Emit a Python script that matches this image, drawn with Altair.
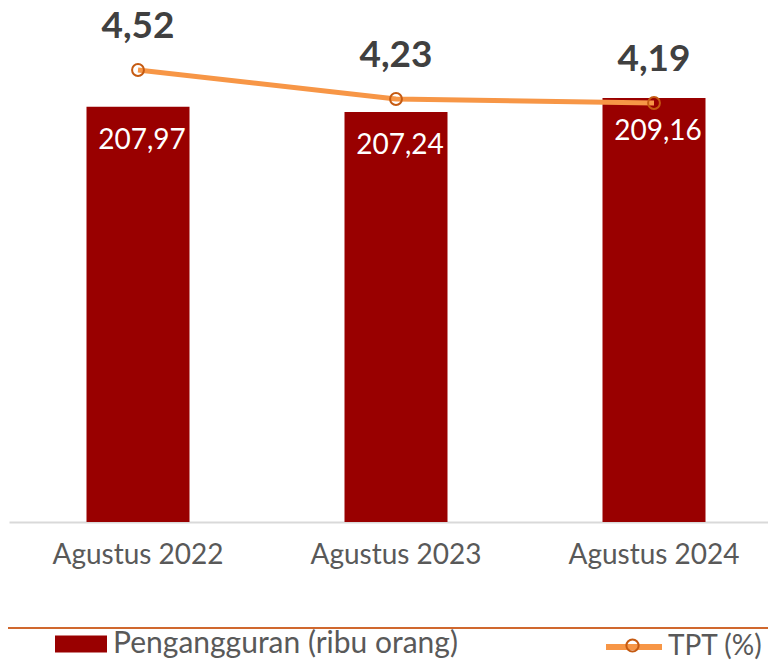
import altair as alt
import pandas as pd

# ---- data ----
periods = ["Agustus 2022", "Agustus 2023", "Agustus 2024"]
pengangguran = [207.97, 207.24, 209.16]
tpt = [4.52, 4.23, 4.19]
bar_series = "Pengangguran (ribu orang)"
line_series = "TPT (%)"

df = pd.DataFrame({"period": periods, "peng": pengangguran, "tpt": tpt})
df["peng_label"] = [f"{v:.2f}".replace(".", ",") for v in pengangguran]
df["tpt_label"] = [f"{v:.2f}".replace(".", ",") for v in tpt]
df["s_bar"] = bar_series
df["s_line"] = line_series

FONT = "Lato"
GRAY = "#595959"
RED = "#990000"
ORANGE = "#F79646"
DARK_ORANGE = "#C55A11"

x = alt.X(
    "period:N", sort=periods, title=None,
    scale=alt.Scale(range=[0, 774], paddingInner=0, paddingOuter=0),
    axis=alt.Axis(labelAngle=0, labelFont=FONT, labelFontSize=28, labelColor=GRAY,
                  ticks=False, domainColor="#D9D9D9", domainWidth=2, labelPadding=19,
                  grid=False),
)
y_bar = alt.Y("peng:Q", scale=alt.Scale(domain=[151, 219.6], nice=False, zero=False), axis=None)
y_line = alt.Y("tpt:Q", scale=alt.Scale(domain=[0, 5], nice=False, zero=True), axis=None)

LEG_C = 622  # legend row centre, relative to plot top
bars = alt.Chart(df).mark_bar(width=103, clip=True).encode(
    x=x, y=y_bar,
    color=alt.Color("s_bar:N", scale=alt.Scale(domain=[bar_series], range=[RED]),
                    legend=alt.Legend(orient="none", legendX=46, legendY=LEG_C - 26, title=None,
                                      symbolType="M-1,-0.327H1V0.327H-1Z", symbolSize=2704,
                                      symbolStrokeWidth=0, labelFont=FONT, labelFontSize=30,
                                      labelColor=GRAY, labelOffset=6, padding=0,
                                      labelLimit=500)),
)
bar_text = alt.Chart(df).mark_text(font=FONT, fontSize=28, color="white", dy=34, dx=4,
                                   baseline="middle").encode(x=x, y=y_bar, text="peng_label:N")

line = alt.Chart(df).mark_line(strokeWidth=5).encode(
    x=x, y=y_line,
    color=alt.Color("s_line:N", scale=alt.Scale(domain=[line_series], range=[ORANGE]),
                    legend=alt.Legend(orient="none", legendX=594, legendY=LEG_C - 28, title=None,
                                      symbolType="M-1,0H1",
                                      symbolSize=3136, symbolStrokeWidth=6,
                                      labelFont=FONT, labelFontSize=28, labelColor=GRAY,
                                      labelOffset=3, padding=0, labelLimit=500)),
)
points = alt.Chart(df).mark_point(filled=False, size=140, stroke=DARK_ORANGE, strokeWidth=2,
                                  opacity=1).encode(
    x=x, y=y_line,
    shape=alt.Shape("s_line:N", scale=alt.Scale(domain=[line_series], range=["circle"]),
                    legend=alt.Legend(orient="none", legendX=616, legendY=LEG_C - 6, title=None,
                                      symbolSize=150, symbolStrokeWidth=2,
                                      symbolStrokeColor=DARK_ORANGE, symbolFillColor="transparent",
                                      labelExpr="''", labelFontSize=1, labelOffset=0, padding=0)),
)
tpt_text = alt.Chart(df).mark_text(font=FONT, fontSize=37, fontWeight="bold", color="#404040",
                                   dy=-43, baseline="middle").encode(x=x, y=y_line, text="tpt_label:N")

sep = alt.Chart(pd.DataFrame({"k": [0]})).mark_rule(color="#D0682E", strokeWidth=2).encode(
    x=alt.value(-1), x2=alt.value(760), y=alt.value(606))

chart = alt.layer(bars, bar_text, line, points, tpt_text, sep).resolve_scale(
    y="independent", color="independent", shape="independent"
).resolve_legend(color="independent", shape="independent").properties(
    width=759, height=500,
    autosize=alt.AutoSizeParams(type="none"),
    padding={"left": 1, "right": 0, "top": 14, "bottom": 138},
).configure_view(stroke=None)

chart.save("out.html", embed_options={"renderer": "svg", "actions": False})
